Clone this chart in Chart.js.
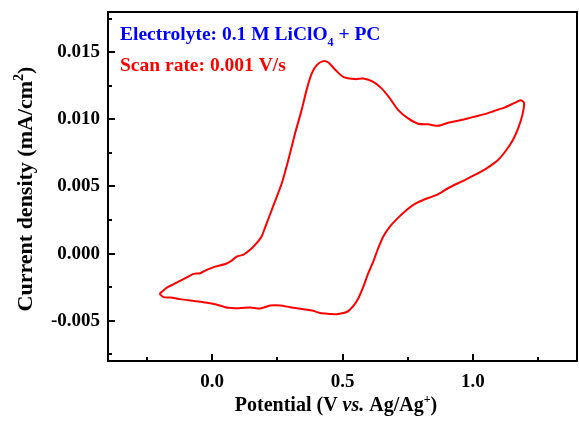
<!DOCTYPE html>
<html>
<head>
<meta charset="utf-8">
<script src="https://cdn.jsdelivr.net/npm/chart.js@4.4.1/dist/chart.umd.min.js"></script>
<style>
html,body{margin:0;padding:0;background:#fff;}
#wrap{width:579px;height:421px;position:relative;}
</style>
</head>
<body>
<div id="wrap"><canvas id="c" width="579" height="421"></canvas></div>
<script>
// Potential (V vs Ag/Ag+), anodic (upper) branch then cathodic (lower) branch
const potential = [
-0.202,-0.174,-0.148,-0.103,-0.072,-0.046,-0.021,0.011,0.050,0.075,0.094,0.120,0.152,0.171,0.190,0.203,0.220,0.235,0.267,0.292,0.318,0.343,0.362,0.382,0.401,0.426,0.446,0.471,0.503,0.548,0.580,0.618,0.650,0.682,0.714,0.752,0.790,0.829,0.867,0.905,0.956,0.995,1.046,1.084,1.123,1.161,1.184,1.197,
1.190,1.174,1.154,1.129,1.097,1.059,1.008,0.956,0.905,0.861,0.816,0.778,0.746,0.714,0.682,0.656,0.637,0.618,0.599,0.580,0.561,0.541,0.522,0.503,0.477,0.452,0.414,0.388,0.350,0.299,0.261,0.222,0.184,0.146,0.107,0.062,0.011,-0.033,-0.084,-0.123,-0.161,-0.187,-0.202
];
// Current density (mA/cm2)
const currentDensity = [
-0.00300,-0.00253,-0.00228,-0.00183,-0.00151,-0.00146,-0.00121,-0.00097,-0.00077,-0.00052,-0.00022,-0.00007,0.00040,0.00080,0.00130,0.00195,0.00282,0.00360,0.00524,0.00697,0.00896,0.01069,0.01218,0.01342,0.01404,0.01434,0.01424,0.01372,0.01317,0.01300,0.01305,0.01280,0.01231,0.01156,0.01069,0.01007,0.00968,0.00963,0.00952,0.00975,0.00995,0.01015,0.01039,0.01064,0.01089,0.01123,0.01142,0.01122,
0.01030,0.00933,0.00846,0.00772,0.00697,0.00643,0.00586,0.00536,0.00487,0.00437,0.00405,0.00370,0.00325,0.00268,0.00201,0.00126,0.00040,-0.00060,-0.00146,-0.00246,-0.00332,-0.00392,-0.00428,-0.00443,-0.00452,-0.00449,-0.00443,-0.00426,-0.00414,-0.00399,-0.00387,-0.00387,-0.00409,-0.00402,-0.00406,-0.00404,-0.00377,-0.00362,-0.00350,-0.00339,-0.00327,-0.00324,-0.00300
];
const xMajorTicks = [0.0, 0.5, 1.0];
const xMinorTicks = [-0.25, 0.25, 0.75, 1.25];
const yMajorTicks = [-0.005, 0.000, 0.005, 0.010, 0.015];
const yMinorTicks = [-0.0075, -0.0025, 0.0025, 0.0075, 0.0125, 0.0175];
const xRange = [-0.4, 1.4];
const yRange = [-0.008, 0.018];
const xTitleParts = [["Potential (V ", "normal"], ["vs.", "italic"], [" Ag/Ag", "normal"], ["+", "sup"], [")", "normal"]];
const yTitleParts = [["Current density (mA/cm", "normal"], ["2", "sup"], [")", "normal"]];
const note1Parts = [["Electrolyte: 0.1 M LiClO", "normal"], ["4", "sub"], [" + PC", "normal"]];
const note2Parts = [["Scan rate: 0.001 V/s", "normal"]];

const points = potential.map((v, i) => ({x: v, y: currentDensity[i]}));
const SERIF = '"Liberation Serif","Times New Roman",serif';

function fontFor(style, size) {
  if (style === 'italic') return 'italic bold ' + size + 'px ' + SERIF;
  if (style === 'sup' || style === 'sub') return 'bold ' + Math.round(size * 0.62) + 'px ' + SERIF;
  return 'bold ' + size + 'px ' + SERIF;
}
function drawRich(ctx, parts, x, y, size, color) {
  ctx.fillStyle = color;
  ctx.textBaseline = 'alphabetic';
  ctx.textAlign = 'left';
  let cx = x;
  for (const [t, style] of parts) {
    let dy = 0;
    if (style === 'sup') dy = -size * 0.42;
    if (style === 'sub') dy = size * 0.3;
    ctx.font = fontFor(style, size);
    ctx.fillText(t, cx, y + dy);
    cx += ctx.measureText(t).width;
  }
  return cx - x;
}
function measureRich(ctx, parts, size) {
  let w = 0;
  for (const [t, style] of parts) { ctx.font = fontFor(style, size); w += ctx.measureText(t).width; }
  return w;
}

const framePlugin = {
  id: 'frame',
  afterDraw(chart) {
    const ctx = chart.ctx, a = chart.chartArea;
    const xs = chart.scales.x, ys = chart.scales.y;
    ctx.save();
    ctx.strokeStyle = '#000';
    ctx.lineWidth = 2;
    ctx.strokeRect(a.left, a.top, a.right - a.left, a.bottom - a.top);
    ctx.beginPath();
    for (const v of xMajorTicks) { const p = Math.round(xs.getPixelForValue(v)); ctx.moveTo(p, a.bottom); ctx.lineTo(p, a.bottom - 7); }
    for (const v of yMajorTicks) { const p = Math.round(ys.getPixelForValue(v)); ctx.moveTo(a.left, p); ctx.lineTo(a.left + 7, p); }
    ctx.stroke();
    ctx.beginPath();
    for (const v of xMinorTicks) { const p = Math.round(xs.getPixelForValue(v)); ctx.moveTo(p, a.bottom); ctx.lineTo(p, a.bottom - 4); }
    for (const v of yMinorTicks) { const p = Math.round(ys.getPixelForValue(v)); ctx.moveTo(a.left, p); ctx.lineTo(a.left + 4, p); }
    ctx.stroke();
    // axis titles
    const wx = measureRich(ctx, xTitleParts, 20);
    drawRich(ctx, xTitleParts, 336 - wx / 2, 411, 20, '#000');
    ctx.save();
    ctx.translate(32, 189);
    ctx.rotate(-Math.PI / 2);
    const wy = measureRich(ctx, yTitleParts, 22);
    drawRich(ctx, yTitleParts, -wy / 2, 0, 22, '#000');
    ctx.restore();
    // annotations
    drawRich(ctx, note1Parts, 120, 40, 19.5, '#0000ff');
    drawRich(ctx, note2Parts, 120, 71, 19.5, '#ff0000');
    ctx.restore();
  }
};

new Chart(document.getElementById('c'), {
  type: 'scatter',
  data: {
    datasets: [{
      data: points,
      showLine: true,
      borderColor: '#ff0000',
      borderWidth: 2,
      pointRadius: 0,
      tension: 0.25,
      fill: false
    }]
  },
  options: {
    responsive: false,
    animation: false,
    layout: {padding: {top: 12, right: 2, left: 0, bottom: 0}},
    plugins: {legend: {display: false}, tooltip: {enabled: false}},
    scales: {
      x: {
        type: 'linear',
        min: xRange[0], max: xRange[1],
        grid: {display: false, drawTicks: false},
        border: {display: false},
        afterBuildTicks(s) { s.ticks = xMajorTicks.map(v => ({value: v})); },
        afterFit(s) { s.height = 60; s.paddingLeft = 0; s.paddingRight = 0; },
        ticks: {
          padding: 10,
          color: '#000',
          font: {family: SERIF, size: 19, weight: 'bold'},
          callback: v => Number(v).toFixed(1)
        }
      },
      y: {
        type: 'linear',
        min: yRange[0], max: yRange[1],
        grid: {display: false, drawTicks: false},
        border: {display: false},
        afterBuildTicks(s) { s.ticks = yMajorTicks.map(v => ({value: v})); },
        afterFit(s) { s.width = 108; s.paddingTop = 0; s.paddingBottom = 0; },
        ticks: {
          padding: 8,
          color: '#000',
          font: {family: SERIF, size: 19, weight: 'bold'},
          callback: v => Number(v).toFixed(3)
        }
      }
    }
  },
  plugins: [framePlugin]
});
</script>
</body>
</html>
